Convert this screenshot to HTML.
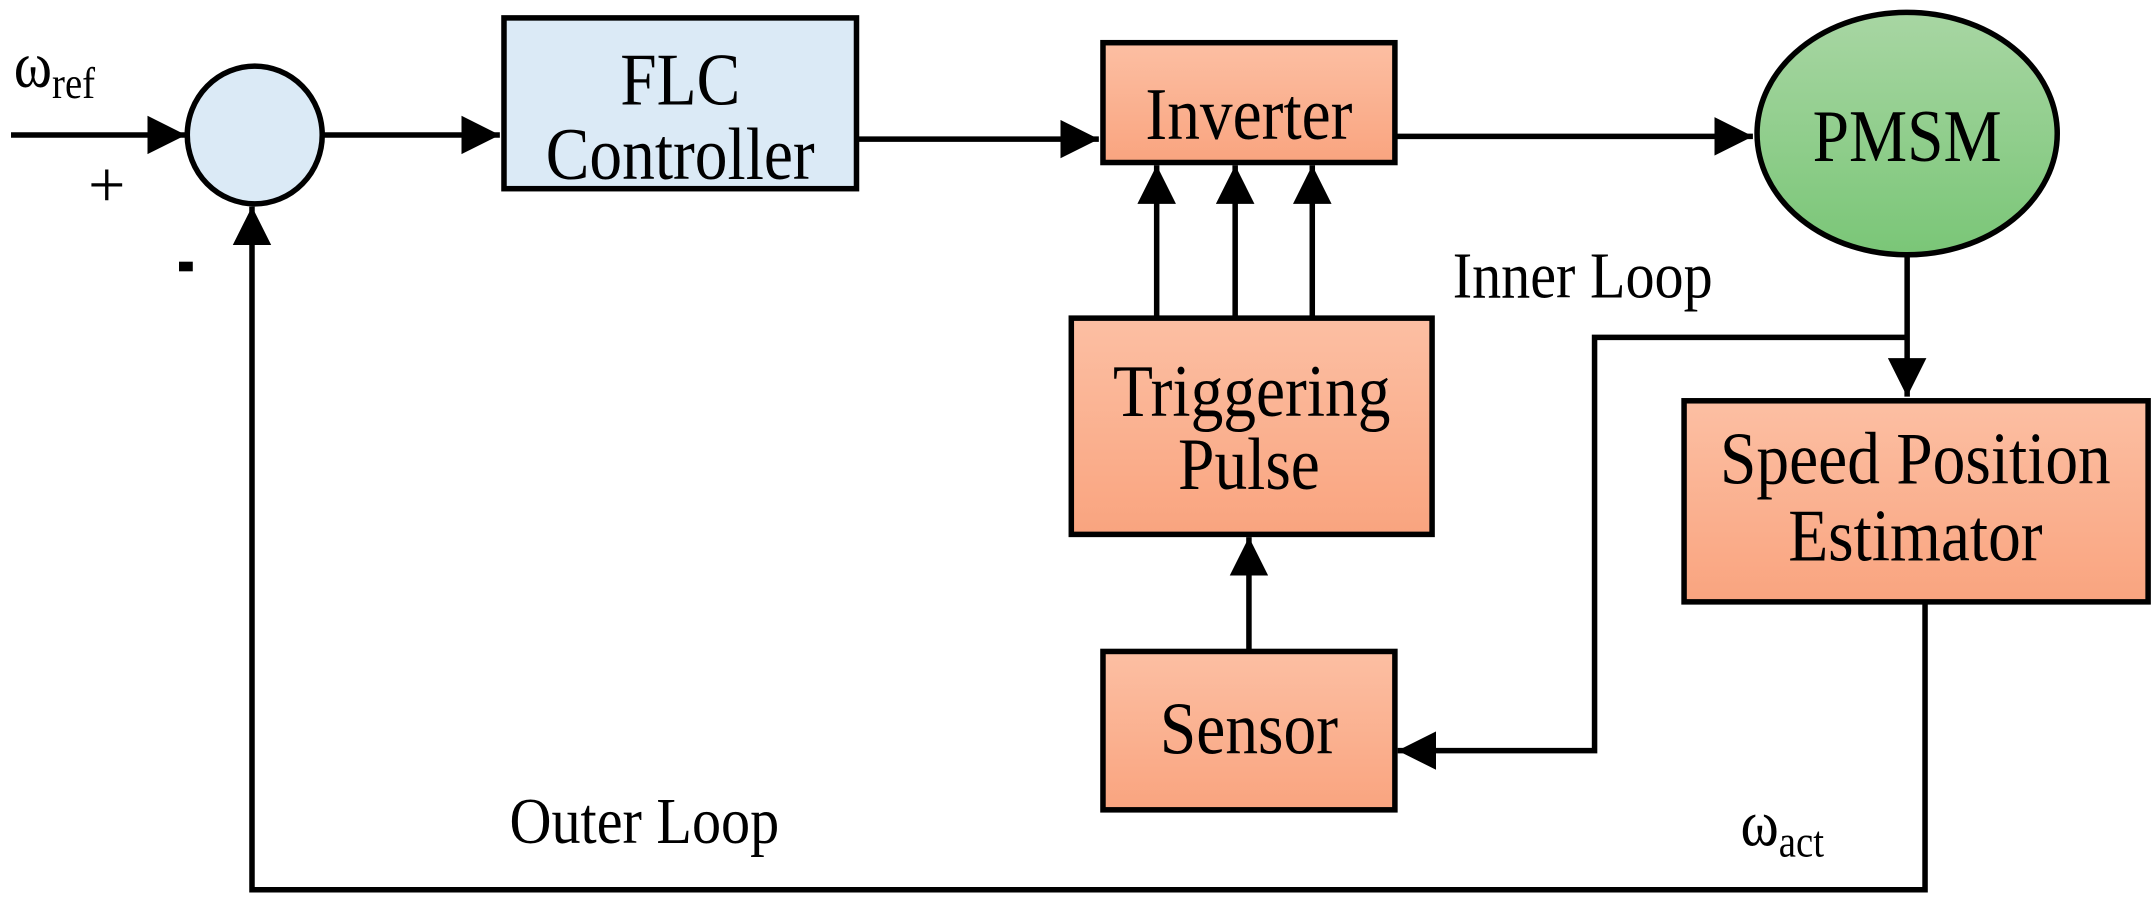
<!DOCTYPE html>
<html><head><meta charset="utf-8"><style>
html,body{margin:0;padding:0;background:#fff;}
svg{display:block;}
text{font-family:"Liberation Serif",serif;fill:#000;}
</style></head><body>
<svg width="2155" height="909" viewBox="0 0 1565 660" preserveAspectRatio="none" xmlns="http://www.w3.org/2000/svg">
<defs>
<linearGradient id="or" x1="0" y1="0" x2="0" y2="1"><stop offset="0" stop-color="#fcbfa3"/><stop offset="1" stop-color="#f9a47f"/></linearGradient>
<linearGradient id="gr" x1="0" y1="0" x2="0" y2="1"><stop offset="0" stop-color="#a8d6a3"/><stop offset="1" stop-color="#7ac677"/></linearGradient>
<marker id="a" viewBox="0 0 10 10" refX="10" refY="5" markerWidth="7" markerHeight="7" orient="auto" markerUnits="strokeWidth"><path d="M0,0 L10,5 L0,10 z" fill="#000"/></marker>
</defs>
<g stroke="#000" stroke-width="4" fill="none">
<line x1="8" y1="98" x2="135" y2="98" marker-end="url(#a)"/>
<ellipse cx="185" cy="98" rx="49" ry="50" fill="#dbeaf6"/>
<line x1="234" y1="98" x2="363" y2="98" marker-end="url(#a)"/>
<rect x="366" y="13" width="256" height="124" fill="#dbeaf6"/>
<line x1="622" y1="101" x2="798" y2="101" marker-end="url(#a)"/>
<rect x="801" y="31" width="212" height="87" fill="url(#or)"/>
<line x1="1013" y1="99" x2="1273" y2="99" marker-end="url(#a)"/>
<ellipse cx="1385" cy="97" rx="109" ry="88" fill="url(#gr)"/>
<line x1="840" y1="230" x2="840" y2="120" marker-end="url(#a)"/>
<line x1="897" y1="230" x2="897" y2="120" marker-end="url(#a)"/>
<line x1="953" y1="230" x2="953" y2="120" marker-end="url(#a)"/>
<rect x="778" y="231" width="262" height="157" fill="url(#or)"/>
<line x1="907" y1="472" x2="907" y2="390" marker-end="url(#a)"/>
<rect x="801" y="473" width="212" height="115" fill="url(#or)"/>
<line x1="1385" y1="185" x2="1385" y2="288" marker-end="url(#a)"/>
<polyline points="1385,245 1158,245 1158,545 1015,545" marker-end="url(#a)"/>
<rect x="1223" y="291" width="337" height="146" fill="url(#or)"/>
<polyline points="1398,437 1398,646 183,646 183,150" marker-end="url(#a)"/>
</g>
<g font-size="54" text-anchor="middle">
<text transform="translate(494,76) scale(0.88,1)">FLC</text>
<text transform="translate(494,130) scale(0.88,1)">Controller</text>
<text transform="translate(907,101) scale(0.88,1)">Inverter</text>
<text transform="translate(1385,117) scale(0.88,1)">PMSM</text>
<text transform="translate(909,302) scale(0.88,1)">Triggering</text>
<text transform="translate(907,355) scale(0.88,1)">Pulse</text>
<text transform="translate(907,547) scale(0.88,1)">Sensor</text>
<text transform="translate(1391,351) scale(0.88,1)">Speed Position</text>
<text transform="translate(1391,407) scale(0.88,1)">Estimator</text>
</g>
<g font-size="48">
<text transform="translate(1055,216) scale(0.88,1)">Inner Loop</text>
<text transform="translate(370,612) scale(0.88,1)">Outer Loop</text>
<text transform="translate(10,63) scale(0.88,1)">ω<tspan font-size="32" dy="8">ref</tspan></text>
<text transform="translate(1264,614) scale(0.88,1)">ω<tspan font-size="32" dy="8">act</tspan></text>
<text x="64" y="150">+</text>
</g>
<rect x="130" y="190" width="10" height="7" fill="#000"/>
</svg>
</body></html>
